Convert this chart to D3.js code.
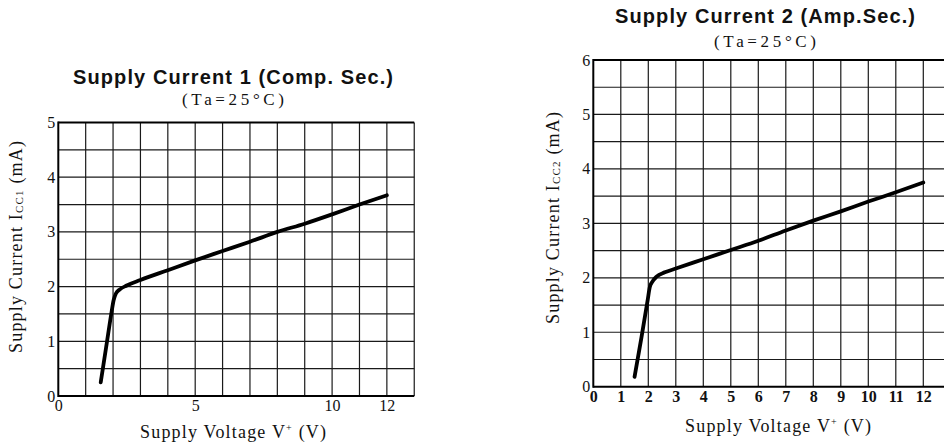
<!DOCTYPE html>
<html>
<head>
<meta charset="utf-8">
<script src="https://cdn.jsdelivr.net/npm/d3@7"></script>
<style>
  html, body { margin: 0; padding: 0; background: #fff; }
  svg { display: block; }
  .serif { font-family: "Liberation Serif", "DejaVu Serif", serif; fill: #111; }
  .title { font-family: "Liberation Sans", Arial, sans-serif; font-weight: bold; fill: #111; }
</style>
</head>
<body>
<svg id="chart" width="944" height="445"></svg>
<script>
// ---- Data ----
// Chart 1: Supply Current 1 (Comp. Sec.)
const voltage1 = [1.55, 1.75, 1.95, 2.02, 2.1, 2.25, 2.5, 3, 4, 5, 6, 7, 8, 9, 10, 11, 12];
const current1 = [0.25, 0.9, 1.55, 1.75, 1.87, 1.95, 2.02, 2.12, 2.3, 2.48, 2.65, 2.82, 3.0, 3.15, 3.32, 3.5, 3.67];
const xTicks1 = [0, 5, 10, 12];
const yTicks1 = [0, 1, 2, 3, 4, 5];

// Chart 2: Supply Current 2 (Amp.Sec.)
const voltage2 = [1.5, 1.75, 1.98, 2.05, 2.15, 2.3, 2.6, 3, 4, 5, 6, 7, 8, 9, 10, 11, 12];
const current2 = [0.18, 0.9, 1.6, 1.82, 1.93, 2.02, 2.1, 2.17, 2.34, 2.51, 2.68, 2.87, 3.05, 3.22, 3.4, 3.57, 3.75];
const xTicks2 = [0, 1, 2, 3, 4, 5, 6, 7, 8, 9, 10, 11, 12];
const yTicks2 = [0, 1, 2, 3, 4, 5, 6];

const titles = ["Supply Current 1 (Comp. Sec.)", "Supply Current 2 (Amp.Sec.)"];
const subtitle = "(Ta=25°C)";

// ---- Drawing ----
const svg = d3.select("#chart");

function drawChart(cfg) {
  const g = svg.append("g");
  const x = d3.scaleLinear().domain([0, 13]).range([cfg.left, cfg.left + 13 * cfg.xStep]);
  const y = d3.scaleLinear().domain([0, cfg.yMax]).range([cfg.bottom, cfg.top]);

  // grid: vertical every 1 V, horizontal every 0.5 mA
  const vLines = d3.range(1, 14);
  const hLines = d3.range(0.5, cfg.yMax, 0.5);
  g.selectAll(".v").data(vLines).join("line")
    .attr("x1", d => x(d)).attr("x2", d => x(d))
    .attr("y1", y(0)).attr("y2", y(cfg.yMax))
    .attr("stroke", "#1a1a1a").attr("stroke-width", 1.2);
  g.selectAll(".h").data(hLines).join("line")
    .attr("x1", x(0)).attr("x2", x(13))
    .attr("y1", d => y(d)).attr("y2", d => y(d))
    .attr("stroke", "#1a1a1a").attr("stroke-width", 1.2);

  // frame: left, bottom, top thicker
  g.append("line").attr("x1", x(0)).attr("x2", x(0)).attr("y1", y(0) + 1).attr("y2", y(cfg.yMax) - 1)
    .attr("stroke", "#000").attr("stroke-width", 2);
  g.append("line").attr("x1", x(0)).attr("x2", x(13)).attr("y1", y(0)).attr("y2", y(0))
    .attr("stroke", "#000").attr("stroke-width", 2);
  g.append("line").attr("x1", x(0)).attr("x2", x(13)).attr("y1", y(cfg.yMax)).attr("y2", y(cfg.yMax))
    .attr("stroke", "#000").attr("stroke-width", 2);

  // tick labels via d3 axes (no lines)
  const xAxis = d3.axisBottom(x).tickValues(cfg.xTicks).tickSize(0).tickPadding(0).tickFormat(d3.format("d"));
  const xa = g.append("g").attr("transform", `translate(0,${cfg.bottom + cfg.xTickDy})`).call(xAxis);
  xa.select(".domain").remove();
  xa.selectAll("text").attr("class", "serif").attr("dy", null).attr("y", 0)
    .style("font-size", "16px").style("font-weight", cfg.xTickWeight).attr("fill", "#111");

  const yAxis = d3.axisLeft(y).tickValues(cfg.yTicks).tickSize(0).tickPadding(0).tickFormat(d3.format("d"));
  const ya = g.append("g").attr("transform", `translate(${cfg.left - 3},0)`).call(yAxis);
  ya.select(".domain").remove();
  ya.selectAll("text").attr("class", "serif").attr("dy", null).attr("y", 5)
    .style("font-size", "16px").attr("fill", "#111");

  // curve
  const pts = cfg.vx.map((v, i) => [v, cfg.vy[i]]);
  const line = d3.line().x(d => x(d[0])).y(d => y(d[1])).curve(d3.curveMonotoneX);
  g.append("path").attr("d", line(pts)).attr("fill", "none")
    .attr("stroke", "#000").attr("stroke-width", 3.8)
    .attr("stroke-linecap", "round").attr("stroke-linejoin", "round");

  // titles
  g.append("text").attr("class", "title")
    .attr("x", cfg.titleX).attr("y", cfg.titleY).attr("text-anchor", "middle")
    .style("font-size", "20px").attr("textLength", cfg.titleLen).attr("lengthAdjust", "spacing")
    .text(cfg.title);
  g.append("text").attr("class", "serif")
    .attr("x", cfg.titleX).attr("y", cfg.subY).attr("text-anchor", "middle")
    .style("font-size", "17px").attr("textLength", 102).attr("lengthAdjust", "spacing")
    .text(subtitle);

  // x-axis title
  const xt = g.append("text").attr("class", "serif")
    .attr("x", cfg.xLabelX).attr("y", cfg.xLabelY).attr("text-anchor", "middle")
    .style("font-size", "18px").attr("textLength", 186).attr("lengthAdjust", "spacing");
  xt.append("tspan").text("Supply Voltage V");
  xt.append("tspan").attr("dy", -7).style("font-size", "10px").text("+");
  xt.append("tspan").attr("dy", 7).text(" (V)");

  // y-axis title
  const yt = g.append("text").attr("class", "serif")
    .attr("transform", `translate(${cfg.yLabelX},${cfg.yLabelY}) rotate(-90)`)
    .attr("text-anchor", "middle")
    .style("font-size", "18px").attr("textLength", 212).attr("lengthAdjust", "spacing");
  yt.append("tspan").text("Supply Current I");
  yt.append("tspan").style("font-size", "11px").attr("dy", 1).text(cfg.sub);
  yt.append("tspan").attr("dy", -1).text(" (mA)");
}

drawChart({
  left: 58.3, xStep: 27.38, top: 122.5, bottom: 396, yMax: 5,
  vx: voltage1, vy: current1, xTicks: xTicks1, yTicks: yTicks1,
  xTickDy: 15, xTickWeight: "normal",
  title: titles[0], titleX: 233, titleY: 84, titleLen: 320, subY: 105,
  xLabelX: 233, xLabelY: 438, yLabelX: 22, yLabelY: 247, sub: "CC1"
});
drawChart({
  left: 593.3, xStep: 27.5, top: 60, bottom: 386.7, yMax: 6,
  vx: voltage2, vy: current2, xTicks: xTicks2, yTicks: yTicks2,
  xTickDy: 15, xTickWeight: "bold",
  title: titles[1], titleX: 765, titleY: 23, titleLen: 300, subY: 47,
  xLabelX: 778, xLabelY: 432, yLabelX: 559, yLabelY: 218, sub: "CC2"
});
</script>
</body>
</html>
